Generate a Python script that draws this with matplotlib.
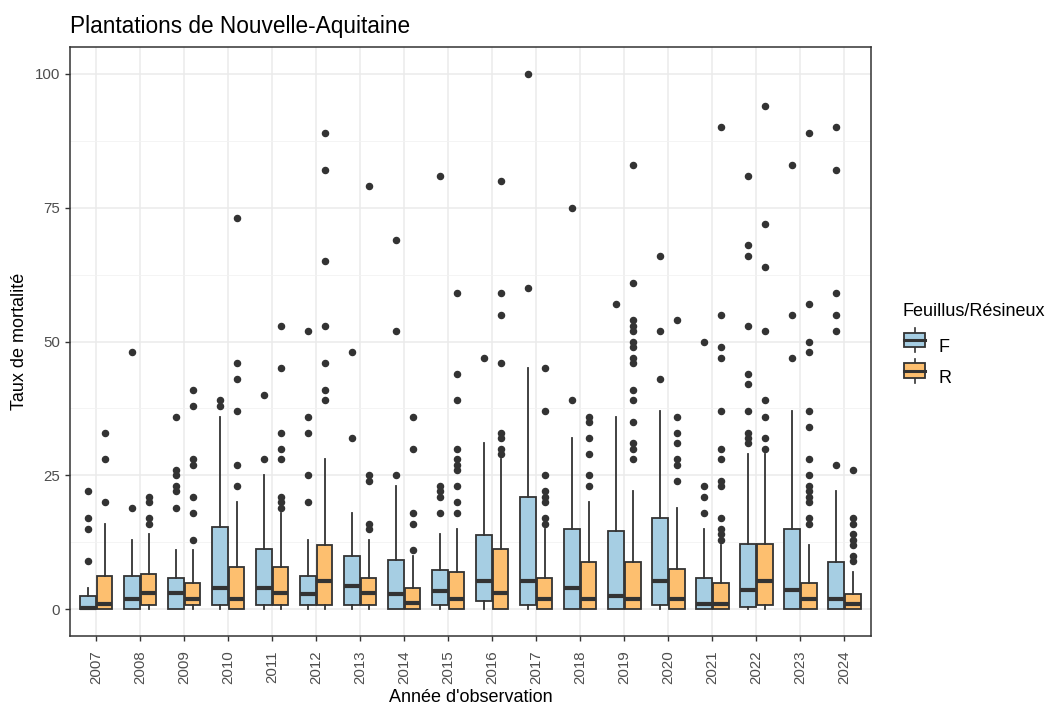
import matplotlib
matplotlib.use("Agg")
import matplotlib.pyplot as plt
from matplotlib.legend_handler import HandlerBase
from matplotlib.patches import Rectangle, Patch
from matplotlib.lines import Line2D
from matplotlib.ticker import MultipleLocator

plt.rcParams['font.family'] = ['Liberation Sans', 'DejaVu Sans']

years = list(range(2007, 2025))

# box stats: q1, median, q3, upper whisker
f_q1 = [0, 0, 0, 0.8, 0.8, 0.8, 0.8, 0, 0.8, 1.6, 0.8, 0, 0, 0.8, 0, 0.5, 0, 0]
f_med = [0.3, 2, 3.1, 4, 4, 2.8, 4.4, 2.9, 3.4, 5.25, 5.25, 4, 2.5, 5.25, 1, 3.6, 3.6, 2]
f_q3 = [2.5, 6.25, 5.9, 15.3, 11.25, 6.25, 10, 9.25, 7.25, 13.9, 21, 14.9, 14.6, 17, 5.9, 12.25, 14.9, 8.9]
f_hi = [4, 13, 11, 36, 25, 13, 18, 23, 14, 31, 45, 32, 36, 37, 15, 29, 37, 22]
f_out = [
    [9, 15, 17, 22],
    [19, 48],
    [19, 22, 23, 25, 26, 36],
    [38, 39],
    [28, 40],
    [20, 25, 33, 36, 52],
    [32, 48],
    [25, 52, 69],
    [18, 21, 22, 23, 81],
    [47],
    [60, 100],
    [39, 75],
    [57],
    [43, 52, 66],
    [18, 21, 23, 50],
    [31, 32, 33, 37, 42, 44, 53, 66, 68, 81],
    [47, 55, 83],
    [27, 52, 55, 59, 82, 90],
]

r_q1 = [0, 0.8, 0.8, 0, 0.8, 0.8, 0.8, 0, 0, 0, 0, 0, 0, 0, 0, 0.8, 0, 0]
r_med = [1, 3.1, 2, 2, 3.1, 5.25, 3.1, 1.1, 2, 3.1, 2, 2, 2, 2, 1, 5.25, 2, 1]
r_q3 = [6.25, 6.6, 4.9, 7.9, 7.9, 12, 5.9, 3.9, 6.9, 11.25, 5.9, 8.9, 8.9, 7.6, 4.9, 12.25, 4.9, 2.9]
r_hi = [16, 14, 11, 20, 18, 28, 13, 10, 15, 28, 15, 20, 22, 19, 12, 29, 12, 7]
r_out = [
    [20, 28, 33],
    [16, 17, 20, 21],
    [13, 18, 21, 27, 28, 38, 41],
    [23, 27, 37, 43, 46, 73],
    [19, 20, 21, 28, 30, 33, 45, 53],
    [39, 41, 46, 53, 65, 82, 89],
    [15, 16, 24, 25, 79],
    [11, 16, 18, 30, 36],
    [18, 20, 23, 26, 27, 28, 30, 39, 44, 59],
    [29, 30, 32, 33, 46, 55, 59, 80],
    [16, 17, 20, 21, 22, 25, 37, 45],
    [23, 25, 29, 32, 35, 36],
    [28, 30, 31, 35, 39, 41, 46, 47, 49, 50, 52, 53, 54, 61, 83],
    [24, 27, 28, 31, 33, 36, 54],
    [13, 14, 15, 17, 23, 24, 28, 30, 37, 47, 49, 55, 90],
    [30, 32, 36, 39, 52, 64, 72, 94],
    [16, 17, 20, 21, 22, 23, 25, 28, 34, 37, 48, 50, 57, 89],
    [9, 10, 12, 13, 14, 16, 17, 26],
]

groups = ["F", "R"]
fill_colors = {"F": "#a6cee3", "R": "#fdbf6f"}
edge = "#333333"


def make_stats(q1, med, q3, hi, out):
    stats = []
    for i in range(len(q1)):
        stats.append({"q1": q1[i], "med": med[i], "q3": q3[i],
                      "whislo": 0, "whishi": hi[i], "fliers": out[i]})
    return stats


fig = plt.figure(figsize=(10.51, 7.04), dpi=100)
ax = fig.add_axes([0.0666, 0.0966, 0.762, 0.8364])

pos = list(range(1, len(years) + 1))
offsets = {"F": -0.1875, "R": 0.1875}
all_stats = {"F": make_stats(f_q1, f_med, f_q3, f_hi, f_out),
             "R": make_stats(r_q1, r_med, r_q3, r_hi, r_out)}

for g in groups:
    ax.bxp(all_stats[g], positions=[p + offsets[g] for p in pos], widths=0.355,
           patch_artist=True, showcaps=False,
           boxprops=dict(facecolor=fill_colors[g], edgecolor=edge, linewidth=1.3),
           medianprops=dict(color=edge, linewidth=3.0, solid_capstyle="butt"),
           whiskerprops=dict(color=edge, linewidth=1.3),
           flierprops=dict(marker="o", markerfacecolor=edge, markeredgecolor=edge,
                           markersize=4.4), zorder=3)

# theme_bw look
ax.set_xlim(0.4, len(years) + 0.6)
ax.set_ylim(-5, 105)
ax.set_xticks(pos)
ax.set_xticklabels([str(y) for y in years], rotation=90)
ax.yaxis.set_major_locator(MultipleLocator(25))
ax.yaxis.set_minor_locator(MultipleLocator(12.5))
ax.grid(which="major", color="#ebebeb", linewidth=1.1, zorder=0)
ax.grid(which="minor", axis="y", color="#f2f2f2", linewidth=0.6, zorder=0)
ax.set_axisbelow(True)
for s in ax.spines.values():
    s.set_color("#333333")
    s.set_linewidth(1.1)
ax.tick_params(which="major", color="#333333", length=3.5, width=1.0,
               labelsize=10.8, labelcolor="#4d4d4d", pad=3.5)
ax.tick_params(axis="x", which="major", pad=7)
ax.tick_params(which="minor", length=0)

ax.set_xlabel("Année d'observation", fontsize=13, labelpad=3)
ax.set_ylabel("Taux de mortalité", fontsize=13, labelpad=5)
fig.text(0.0666, 0.946, "Plantations de Nouvelle-Aquitaine", fontsize=16.3, va="bottom")


class BoxHandler(HandlerBase):
    def create_artists(self, legend, orig, xd, yd, w, h, fontsize, trans):
        fc = orig.get_facecolor()
        bw, bh = w * 0.9, h * 0.8
        x0 = xd + (w - bw) / 2
        y0 = yd + (h - bh) / 2
        cx = xd + w / 2
        arts = [
            Line2D([cx, cx], [yd - 0.15 * h, yd + 1.15 * h], color=edge, lw=1.2, transform=trans),
            Rectangle((x0, y0), bw, bh, facecolor=fc, edgecolor=edge, lw=1.3, transform=trans),
            Line2D([x0, x0 + bw], [yd + h / 2, yd + h / 2], color=edge, lw=2.2, transform=trans),
        ]
        return arts


handles = [Patch(facecolor=fill_colors[g], edgecolor=edge) for g in groups]
leg = fig.legend(handles, groups, title="Feuillus/Résineux", loc="upper left",
                 bbox_to_anchor=(0.859, 0.569), frameon=False, fontsize=13,
                 title_fontsize=13, handler_map={Patch: BoxHandler()},
                 handlelength=1.3, handleheight=1.2, labelspacing=0.62,
                 handletextpad=0.7, alignment="left", borderaxespad=0, borderpad=0)
leg._legend_box.sep = 12

fig.savefig("out.png", dpi=100)
